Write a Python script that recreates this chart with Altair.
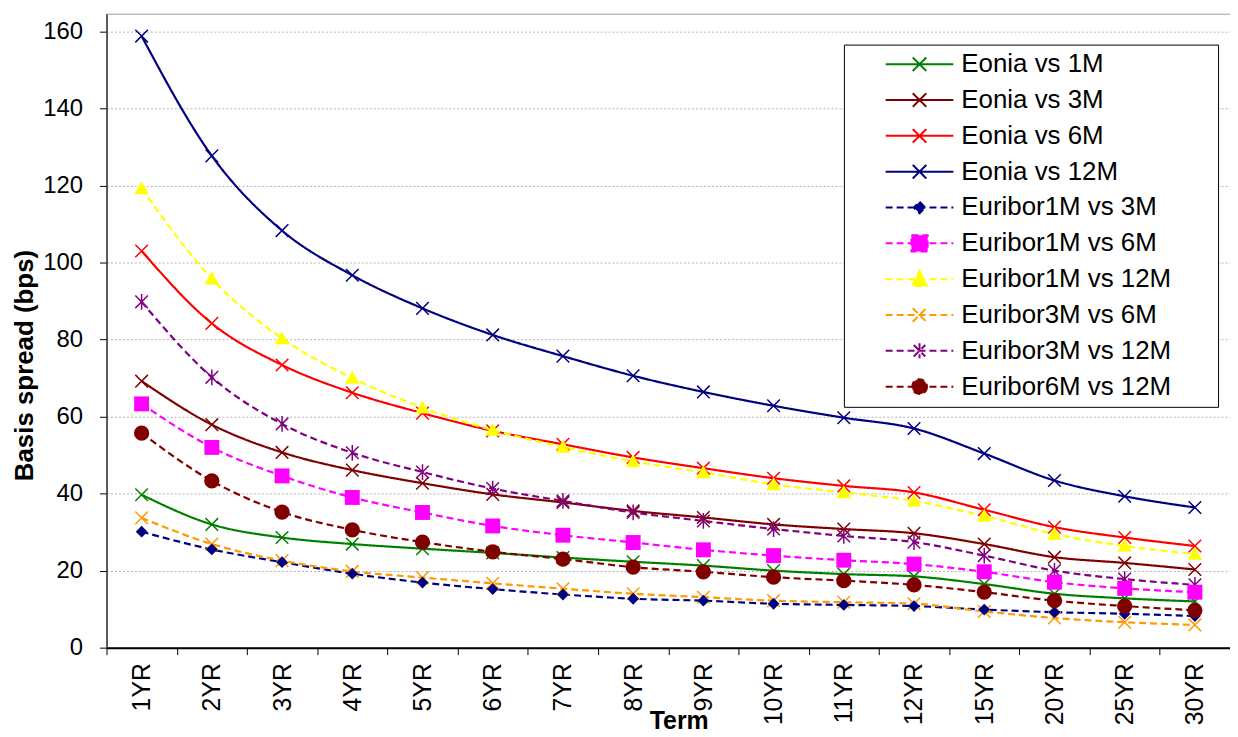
import altair as alt
import pandas as pd

terms = ["1YR", "2YR", "3YR", "4YR", "5YR", "6YR", "7YR", "8YR", "9YR", "10YR",
         "11YR", "12YR", "15YR", "20YR", "25YR", "30YR"]

series = ["Eonia vs 1M", "Eonia vs 3M", "Eonia vs 6M", "Eonia vs 12M",
          "Euribor1M vs 3M", "Euribor1M vs 6M", "Euribor1M vs 12M",
          "Euribor3M vs 6M", "Euribor3M vs 12M", "Euribor6M vs 12M"]

eonia_1m = [39.7, 32, 28.6, 26.9, 25.7, 24.6, 23.4, 22.3, 21.3, 20, 19.1, 18.5, 16.5, 14, 12.8, 12]
eonia_3m = [69.2, 57.9, 50.7, 46.1, 42.7, 39.8, 37.7, 35.5, 33.8, 32, 30.8, 29.7, 26.9, 23.5, 22, 20.3]
eonia_6m = [103, 84.2, 73.4, 66.2, 60.9, 56.3, 52.8, 49.4, 46.6, 44, 42, 40.3, 35.8, 31.3, 28.6, 26.4]
eonia_12m = [158.8, 127.7, 108.3, 96.7, 88.1, 81.2, 75.7, 70.6, 66.4, 62.8, 59.7, 56.9, 50.4, 43.4, 39.3, 36.4]
e1m_3m = [30.1, 25.5, 22.2, 19.2, 16.9, 15.2, 13.8, 12.7, 12.2, 11.4, 11.1, 10.8, 9.9, 9.2, 8.8, 8.2]
e1m_6m = [63.3, 52, 44.6, 39, 35.1, 31.6, 29.2, 27.3, 25.4, 23.9, 22.7, 21.7, 19.7, 17, 15.4, 14.4]
e1m_12m = [119.2, 95.8, 80.3, 70, 62.3, 56.5, 52.1, 48.4, 45.5, 42.4, 40.3, 38.1, 34.2, 29.5, 26.4, 24.3]
e3m_6m = [33.7, 26.9, 22.6, 19.8, 18.2, 16.7, 15.3, 14, 13.1, 12.2, 11.8, 11.4, 9.4, 7.7, 6.6, 5.9]
e3m_12m = [89.8, 70.2, 58.1, 50.6, 45.6, 41.3, 38.1, 35.1, 32.9, 30.8, 29, 27.4, 23.9, 20, 17.8, 16.3]
e6m_12m = [55.7, 43.3, 35.2, 30.6, 27.4, 24.9, 23, 20.9, 19.7, 18.3, 17.4, 16.3, 14.4, 12.2, 10.8, 9.7]

values = [eonia_1m, eonia_3m, eonia_6m, eonia_12m, e1m_3m, e1m_6m, e1m_12m,
          e3m_6m, e3m_12m, e6m_12m]

colors = ["#008000", "#800000", "#FF0000", "#000080", "#000080", "#FF00FF",
          "#FFFF00", "#FF9900", "#800080", "#800000"]
dashes = [[1, 0]] * 4 + [[7, 4]] * 6

y_ticks = [0, 20, 40, 60, 80, 100, 120, 140, 160]

rows = []
for s, vals in zip(series, values):
    for t, v in zip(terms, vals):
        rows.append({"Term": t, "Series": s, "Spread": v})
df = pd.DataFrame(rows)

FONT = "Liberation Sans"

# marker shapes (unit square paths)
P_X = "M-1,-1L1,1M-1,1L1,-1"
P_AST = "M-1,-1L1,1M-1,1L1,-1M0,-1.25L0,1.25"
P_DIAM = "M0,-1L1,0L0,1L-1,0Z"
P_SQ = "M-1,-1L1,-1L1,1L-1,1Z"
P_TRI = "M0,-1L1,0.8L-1,0.8Z"

# legend symbols: line segment + small marker
L_LINE = "M-1,0L1,0"
def lx(r):
    return f"M{-r},{-r}L{r},{r}M{-r},{r}L{r},{-r}"
leg_paths = [
    L_LINE + lx(0.2), L_LINE + lx(0.2), L_LINE + lx(0.2), L_LINE + lx(0.2),
    L_LINE + "M0,-0.17L0.17,0L0,0.17L-0.17,0Z",
    L_LINE + "M-0.24,-0.24L0.24,-0.24L0.24,0.24L-0.24,0.24Z",
    L_LINE + "M0,-0.24L0.22,0.2L-0.22,0.2Z",
    L_LINE + lx(0.2),
    L_LINE + lx(0.17) + "M0,-0.22L0,0.22",
    L_LINE + "M0.22,0A0.22,0.22 0 1,1 -0.22,0A0.22,0.22 0 1,1 0.22,0Z",
]

legend = alt.Legend(
    title=" ", titleOrient="right", titlePadding=45, titleFontSize=10,
    orient="none", legendX=741, legendY=31, padding=2,
    strokeColor="black", fillColor="white",
    labelFont=FONT, labelFontSize=26, labelColor="black", labelLimit=500,
    symbolSize=4624, symbolStrokeWidth=2, clipHeight=35.4, rowPadding=0,
    symbolOffset=39, labelOffset=7,
)

x_enc = alt.X(
    "Term:N", sort=terms,
    scale=alt.Scale(type="band", domain=terms, paddingInner=0, paddingOuter=0),
    axis=alt.Axis(
        title="Term", tickBand="extent", tickSize=7, tickColor="black",
        domainColor="black", domainWidth=2, grid=False,
        labelAngle=270, labelAlign="right", labelBaseline="middle",
        labelPadding=8, labelFont=FONT, labelFontSize=25, labelColor="black",
        titleFont=FONT, titleFontSize=25, titleFontWeight="bold",
        titleColor="black", titleX=575, titleY=81, titleBaseline="alphabetic",
        titleAlign="center",
    ),
)
y_enc = alt.Y(
    "Spread:Q",
    scale=alt.Scale(domain=[0, 164.6], nice=False),
    axis=alt.Axis(
        title="Basis spread (bps)", values=y_ticks, tickSize=7, tickColor="black",
        domainColor="#333333", domainWidth=1.5, grid=True, gridColor="#b4b4b4",
        gridDash=[2, 2], labelPadding=17, labelFont=FONT, labelFontSize=24,
        labelColor="black", titleFont=FONT, titleFontSize=26,
        titleFontWeight="bold", titleColor="black", titleAngle=270,
        titleX=-82, titleY=353, titleAlign="center", titleBaseline="middle",
    ),
)
color_enc = alt.Color("Series:N", scale=alt.Scale(domain=series, range=colors), legend=legend)
dash_enc = alt.StrokeDash("Series:N", scale=alt.Scale(domain=series, range=dashes), legend=legend)

base = alt.Chart(df)

lines = base.mark_line(strokeWidth=2.2, interpolate="monotone").encode(
    x=x_enc, y=y_enc, color=color_enc, strokeDash=dash_enc, detail="Series:N"
)

def markers(names, shape, size, filled, sw=1.5):
    return base.transform_filter(
        alt.FieldOneOfPredicate(field="Series", oneOf=names)
    ).mark_point(shape=shape, size=size, filled=filled, strokeWidth=sw, opacity=1).encode(
        x=x_enc, y=y_enc, color=color_enc
    )

m_x = markers(["Eonia vs 1M", "Eonia vs 3M", "Eonia vs 6M", "Eonia vs 12M", "Euribor3M vs 6M"], P_X, 160, False)
m_ast = markers(["Euribor3M vs 12M"], P_AST, 160, False)
m_diam = markers(["Euribor1M vs 3M"], P_DIAM, 140, True)
m_sq = markers(["Euribor1M vs 6M"], P_SQ, 225, True)
m_tri = markers(["Euribor1M vs 12M"], P_TRI, 210, True)
m_circ = markers(["Euribor6M vs 12M"], "circle", 235, True)

leg_layer = base.transform_filter("false").mark_point(filled=False, opacity=1).encode(
    x=x_enc, y=y_enc, color=color_enc, strokeDash=dash_enc,
    fill=alt.Fill("Series:N", scale=alt.Scale(domain=series, range=colors), legend=legend),
    shape=alt.Shape("Series:N", scale=alt.Scale(domain=series, range=leg_paths), legend=legend),
)

chart = alt.layer(lines, m_x, m_ast, m_diam, m_sq, m_tri, m_circ, leg_layer).properties(
    width=1129, height=637,
    padding={"left": 99, "top": 4, "right": 0, "bottom": 88},
    autosize=alt.AutoSizeParams(type="none"),
    background="white",
).configure_view(stroke="#a0a0a0", strokeWidth=1)

chart.save("out.html", embed_options={"renderer": "svg", "actions": False})
